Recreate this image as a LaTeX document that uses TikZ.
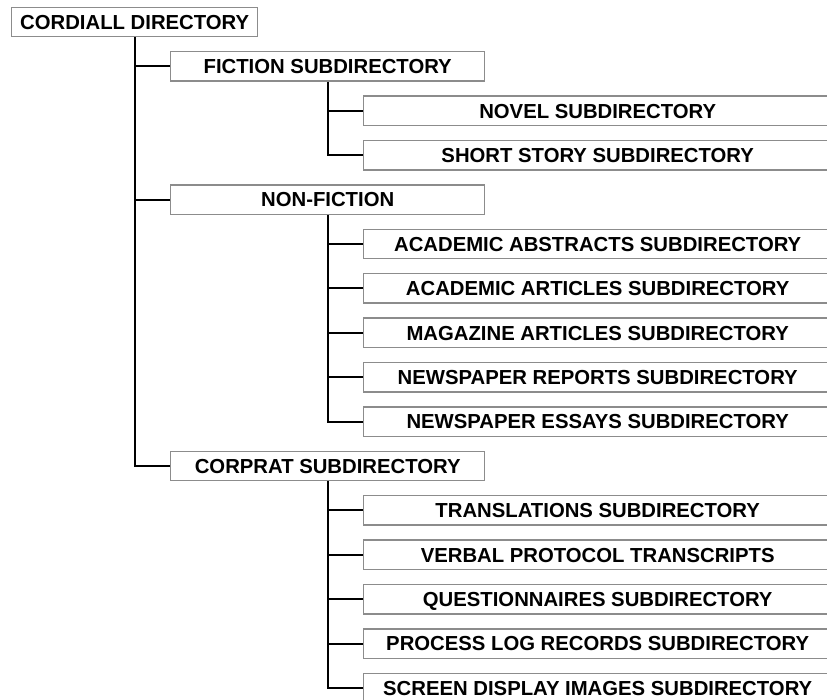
\documentclass[tikz,border=0pt]{standalone}
\usepackage{fontspec}
\setmainfont{Liberation Sans}
\begin{document}
\begin{tikzpicture}[x=1pt,y=-1pt,
  box/.style={draw=black!45,line width=1.4pt,fill=white,inner sep=0pt,
    minimum height=29.5pt,text height=14.6pt,text depth=0pt,anchor=west,
    font=\fontsize{20.3}{24}\selectfont\bfseries},
  rootbox/.style={box,minimum width=246pt},
  midbox/.style={box,minimum width=314pt},
  leafbox/.style={box,minimum width=468pt},
  conn/.style={draw=black,line width=2pt}]
\useasboundingbox (0,0) rectangle (827,700);
\clip (0,0) rectangle (827,700);
\def\rowh{44.4}
\node[rootbox] (root) at (11,22) {CORDIALL DIRECTORY};
\node[midbox] (fic) at (170,{22+1*\rowh}) {FICTION SUBDIRECTORY};
\node[leafbox] (nov) at (363,{22+2*\rowh}) {NOVEL SUBDIRECTORY};
\node[leafbox] (sho) at (363,{22+3*\rowh}) {SHORT STORY SUBDIRECTORY};
\node[midbox] (non) at (170,{22+4*\rowh}) {NON-FICTION};
\node[leafbox] (abs) at (363,{22+5*\rowh}) {ACADEMIC ABSTRACTS SUBDIRECTORY};
\node[leafbox] (art) at (363,{22+6*\rowh}) {ACADEMIC ARTICLES SUBDIRECTORY};
\node[leafbox] (mag) at (363,{22+7*\rowh}) {MAGAZINE ARTICLES SUBDIRECTORY};
\node[leafbox] (rep) at (363,{22+8*\rowh}) {NEWSPAPER REPORTS SUBDIRECTORY};
\node[leafbox] (ess) at (363,{22+9*\rowh}) {NEWSPAPER ESSAYS SUBDIRECTORY};
\node[midbox] (cor) at (170,{22+10*\rowh}) {CORPRAT SUBDIRECTORY};
\node[leafbox] (tra) at (363,{22+11*\rowh}) {TRANSLATIONS SUBDIRECTORY};
\node[leafbox] (ver) at (363,{22+12*\rowh}) {VERBAL PROTOCOL TRANSCRIPTS};
\node[leafbox] (que) at (363,{22+13*\rowh}) {QUESTIONNAIRES SUBDIRECTORY};
\node[leafbox] (pro) at (363,{22+14*\rowh}) {PROCESS LOG RECORDS SUBDIRECTORY};
\node[leafbox] (scr) at (363,{22+15*\rowh}) {SCREEN DISPLAY IMAGES SUBDIRECTORY};
% root trunk
\draw[conn] (root.south) |- (cor.west);
\draw[conn] (root.south |- fic.west) -- (fic.west);
\draw[conn] (root.south |- non.west) -- (non.west);
% fiction
\draw[conn] (fic.south) |- (sho.west);
\draw[conn] (fic.south |- nov.west) -- (nov.west);
% non-fiction
\draw[conn] (non.south) |- (ess.west);
\foreach \n in {abs,art,mag,rep}
  \draw[conn] (non.south |- \n.west) -- (\n.west);
% corprat
\draw[conn] (cor.south) |- (scr.west);
\foreach \n in {tra,ver,que,pro}
  \draw[conn] (cor.south |- \n.west) -- (\n.west);
\end{tikzpicture}
\end{document}
